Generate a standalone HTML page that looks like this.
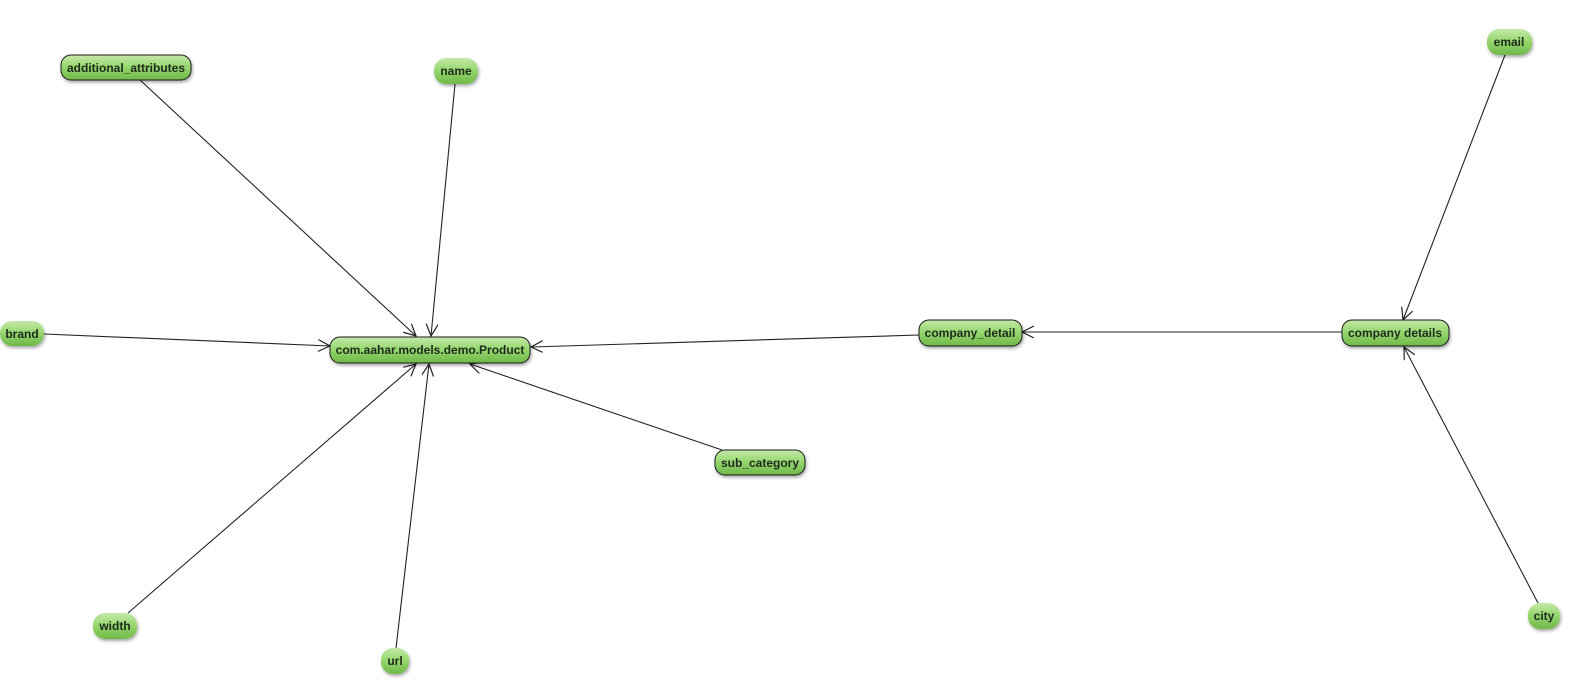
<!DOCTYPE html>
<html><head><meta charset="utf-8"><style>
html,body{margin:0;padding:0;background:#fff;width:1576px;height:682px;overflow:hidden}
svg{display:block}
text{font-family:"Liberation Sans",Arial,sans-serif;font-size:12px;font-weight:bold;fill:#1e2a1e}
</style></head><body>
<svg width="1576" height="682" viewBox="0 0 1576 682" xmlns="http://www.w3.org/2000/svg">
<defs>
<linearGradient id="g" x1="0" y1="0" x2="0" y2="1">
<stop offset="0" stop-color="#c4e8a8"/><stop offset="0.45" stop-color="#98d870"/><stop offset="1" stop-color="#6fb848"/>
</linearGradient>
<filter id="sh" x="-20%" y="-30%" width="140%" height="170%"><feDropShadow dx="1" dy="2" stdDeviation="1.5" flood-color="#000" flood-opacity="0.35"/></filter>
<marker id="a" markerWidth="14" markerHeight="14" refX="12" refY="6" orient="auto" markerUnits="userSpaceOnUse">
<path d="M0,0 L12,6 L0,12" fill="none" stroke="#222" stroke-width="1.2"/></marker>
</defs>
<g stroke="#222" stroke-width="1.1" fill="none" marker-end="url(#a)">
<line x1="140" y1="80" x2="416" y2="336"/>
<line x1="455" y1="84" x2="431" y2="336"/>
<line x1="44" y1="334" x2="330" y2="346"/>
<line x1="128" y1="613" x2="416" y2="364"/>
<line x1="396" y1="648" x2="429" y2="364"/>
<line x1="722" y1="450" x2="470" y2="364"/>
<line x1="919" y1="335" x2="531" y2="347"/>
<line x1="1342" y1="332" x2="1022" y2="332"/>
<line x1="1505" y1="55" x2="1403" y2="320"/>
<line x1="1538" y1="603" x2="1404" y2="347"/>
</g>
<g filter="url(#sh)" fill="url(#g)">
<rect x="61" y="55" width="130" height="25" rx="10" stroke="#1a1a1a" stroke-width="1"/>
<rect x="330" y="337" width="200" height="26" rx="10" stroke="#1a1a1a" stroke-width="1"/>
<rect x="919" y="320" width="103" height="26" rx="10" stroke="#1a1a1a" stroke-width="1"/>
<rect x="1342" y="320" width="107" height="26" rx="10" stroke="#1a1a1a" stroke-width="1"/>
<rect x="715" y="450" width="90" height="25" rx="10" stroke="#1a1a1a" stroke-width="1"/>
<rect x="434" y="58" width="44" height="26" rx="12"/>
<rect x="0" y="321" width="44" height="25" rx="12"/>
<rect x="1487" y="29" width="45" height="26" rx="12"/>
<rect x="93" y="613" width="44" height="26" rx="12"/>
<rect x="381" y="648" width="28" height="26" rx="12"/>
<rect x="1528" y="603" width="32" height="26" rx="12"/>
</g>
<g text-anchor="middle">
<text x="126" y="72">additional_attributes</text>
<text x="430" y="354">com.aahar.models.demo.Product</text>
<text x="970" y="337">company_detail</text>
<text x="1395" y="337">company details</text>
<text x="760" y="467">sub_category</text>
<text x="456" y="75">name</text>
<text x="22" y="338">brand</text>
<text x="1509" y="46">email</text>
<text x="115" y="630">width</text>
<text x="395" y="665">url</text>
<text x="1544" y="620">city</text>
</g>
</svg>
</body></html>
